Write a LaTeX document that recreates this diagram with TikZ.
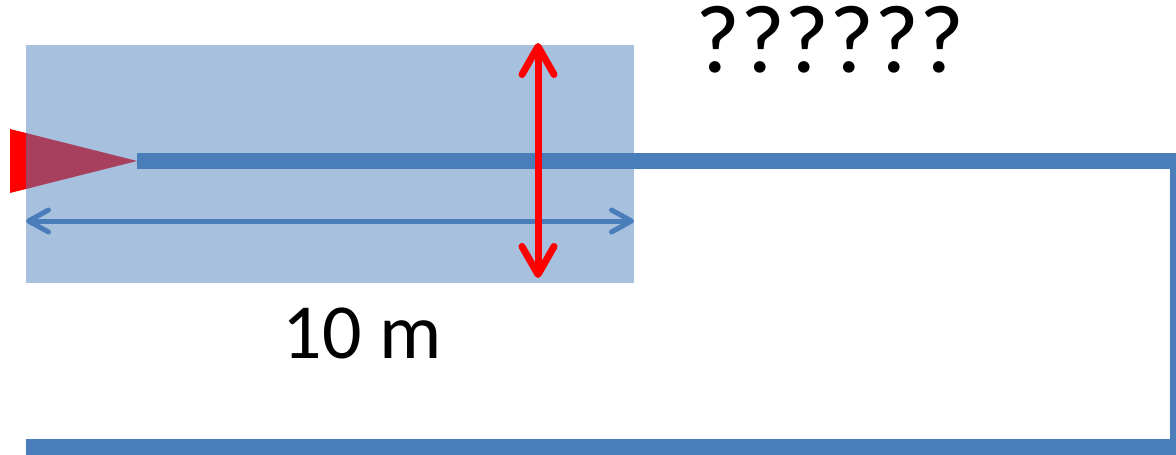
\documentclass[tikz,border=0pt]{standalone}
\usepackage{fontspec}
\setmainfont{Carlito}
\usetikzlibrary{arrows.meta}
\definecolor{boxblue}{RGB}{79,129,189}
\definecolor{lineblue}{RGB}{74,126,187}
\tikzset{
  pipe/.style={draw=lineblue,line width=16pt,line join=miter},
  dimarrow/.style={draw=lineblue,line width=5pt,{Straight Barb[round,length=20pt,width=22pt]}-{Straight Barb[round,length=20pt,width=22pt]}},
  redarrow/.style={draw=red,line width=7pt,{Straight Barb[round,length=28pt,width=32pt]}-{Straight Barb[round,length=28pt,width=32pt]}},
  lbl/.style={inner sep=0pt,anchor=base}
}
\begin{document}
\begin{tikzpicture}[x=1pt,y=-1pt]
\useasboundingbox (0,0) rectangle (1176,455);
\clip (0,0) rectangle (1176,455);
% red triangle (source)
\fill[red] (10,129) -- (137,161) coordinate (tip) -- (10,193) -- cycle;
% translucent box
\fill[boxblue,fill opacity=0.5] (26,45) rectangle (634,283);
\coordinate (boxL) at (26,221);
\coordinate (boxR) at (634,221);
% thick pipe line
\coordinate (c1) at (1178,161);
\coordinate (c2) at (1178,447);
\coordinate (endB) at (26,447);
\draw[pipe] (tip) -- (c1) -- (c2) -- (endB);
% dimension arrow
\draw[dimarrow] (boxL) -- (boxR);
% red double arrow
\coordinate (rtop) at (538,43);
\coordinate (rbot) at (538,278);
\draw[redarrow] (rtop) -- (rbot);
% labels
\node[lbl,font=\fontsize{78}{80}\selectfont] (len) at (362,358) {10 m};
\node[lbl,font=\fontsize{97}{100}\selectfont] (q) at (830,72) {??????};
\end{tikzpicture}
\end{document}
